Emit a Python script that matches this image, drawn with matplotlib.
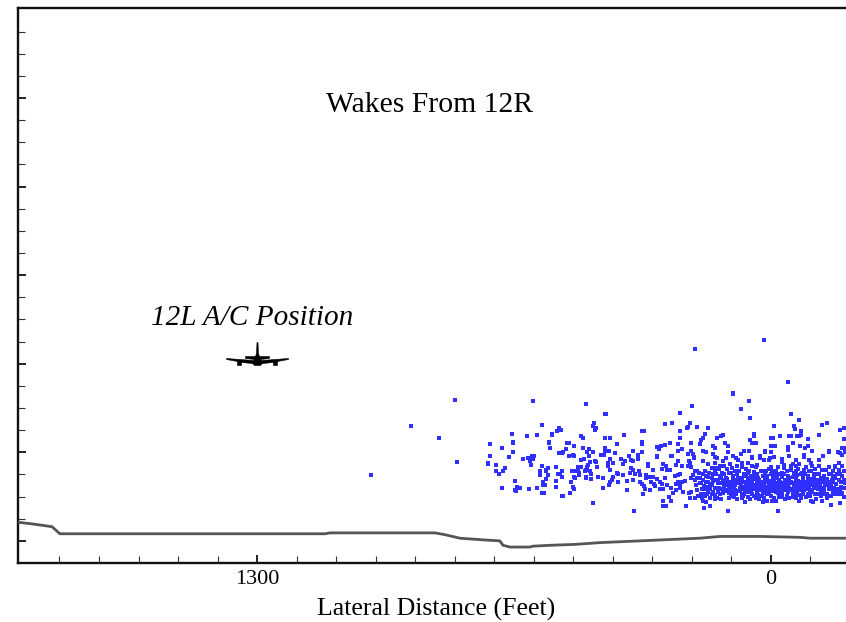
import numpy as np
import matplotlib
matplotlib.use('Agg')
import matplotlib.pyplot as plt
from matplotlib.path import Path

plt.rcParams['font.family'] = ['Liberation Serif', 'DejaVu Serif']

# ground profile, lateral feet / height
ground_x = [1905, 1867, 1819, 1799, 1128, 1116, 850, 825, 787, 724, 686, 678, 660, 610, 602, 559, 496, 433, 382, 281, 180, 129, 28, -73, -99, -190]
ground_y = [46, 44, 41, 33, 33, 34, 34, 32, 28, 26, 25, 20, 18, 18, 19, 20, 21, 23, 24, 26, 28, 30, 30, 29, 28, 28]

# wake positions (lateral feet, height)
wakes_outlying = [(800,184),(911,155),(840,141),(795,114),(1012,99),(18,252),(191,242),(-42,204),(97,192),(97,191),(55,183),(75,174),(52,164)]

wakes_left = [(601,183),(468,179),(448,158),(451,155),(443,152),(446,150),(578,156),(655,146),(553,146),(553,144),(542,149),(536,152),(530,150),
    (618,143),(593,144),(481,143),(475,141),(652,137),(652,135),(561,137),(561,135),(712,134),(516,136),(511,135),(680,130),(559,130),(497,132),
    (519,129),(476,130),(460,129),(653,125),(536,124),(529,124),(525,125),(465,125),(451,125),(460,121),(712,121),(663,120),(628,117),(615,119),
    (605,121),(599,121),(605,119),(601,117),(610,115),(607,111),(510,121),(502,122),(498,121),(473,117),(481,116),(445,115),(442,114),(458,114),
    (715,113),(715,112),(695,111),(578,110),(545,108),(565,107),(570,105),(570,104),(583,104),(583,99),(672,107),(678,104),(695,104),(689,101),
    (528,104),(539,101),(534,101),(504,104),(487,108),(481,108),(487,105),(492,104),(486,102),(486,99),(466,108),(468,105),(462,111),(470,104),
    (458,104),(456,100),(439,108),(564,99),(528,97),(498,97),(496,96),(468,97),(468,96),(456,95),(438,97),(569,95),(576,91),(576,88),(572,88),
    (545,93),(505,92),(647,93),(643,86),(636,85),(680,85),(647,82),(645,81),(613,83),(593,85),(545,86),(500,86),(497,83),(578,79),(575,79),
    (508,79),(529,76),(526,76),(451,68)]

wakes_mid = [(230,169),(199,177),(416,168),(419,168),(267,157),(250,158),(205,158),(209,154),(213,152),(188,154),(160,152),(230,149),(326,149),
    (320,149),(168,146),(372,144),(421,141),(406,141),(230,141),(173,141),(177,139),(326,137),(326,134),(390,134),(202,135),(180,134),(288,131),
    (277,132),(267,133),(256,135),(236,134),(283,129),(421,130),(421,126),(409,127),(349,127),(327,125),(336,122),(226,129),(234,127),(289,121),
    (289,120),(252,121),(249,121),(202,127),(209,123),(198,123),(194,120),(194,118),(173,126),(163,125),(146,132),(142,130),(146,123),(142,120),
    (429,122),(422,122),(407,117),(358,121),(395,124),(380,117),(370,115),(374,112),(355,116),(348,115),(336,117),(411,113),(411,110),(399,113),
    (407,105),(312,112),(312,110),(355,107),(348,105),(334,104),(357,102),(344,100),(331,99),(389,102),(375,99),(388,100),(298,105),(276,106),
    (272,112),(266,110),(240,111),(234,115),(264,105),(256,105),(226,110),(208,115),(205,113),(209,110),(201,108),(230,100),(243,98),(236,99),
    (268,96),(315,99),(315,96),(306,97),(299,97),(288,95),(426,96),(399,97),(401,94),(348,94),(363,93),(388,92),(407,91),(409,88),(426,85),
    (330,91),(326,89),(320,87),(319,83),(304,91),(295,89),(293,87),(281,91),(276,89),(281,84),(272,84),(264,88),(253,85),(247,79),(257,75),
    (254,70),(240,82),(240,89),(234,91),(230,89),(226,91),(218,93),(230,85),(363,82),(324,78),(306,82),(272,70),(272,64),(266,64),(346,59),
    (216,64),(170,62),(154,64),(207,79),(201,80),(205,73),(191,73),(186,82),(178,78),(175,73),(171,70),(164,69),(222,80),(201,96),(192,94),
    (192,104),(186,104),(182,102),(196,99),(171,100),(164,98),(159,97),(171,94),(163,91),(154,89),(142,103),(146,100),(180,90),(170,87),(159,86),
    (148,88),(175,83),(164,84),(153,83),(142,85),(173,78),(161,78),(150,78),(142,77),(142,72),(154,73),(173,115),(158,112),(150,107),(142,113),
    (138,107),(146,93),(138,94),(150,96),(190,88),(180,96),(168,104),(156,102),(148,96),(186,96),(176,90),(160,80),(146,80),(166,76),(185,76),(158,92)]

wakes_core = [(-50,168),(-70,161),(-8,155),(-58,155),(-61,151),(-75,149),(-75,145),(-67,143),(-72,143),(-130,156),(-143,158),(-175,150),(-184,152),
    (43,146),(43,143),(120,145),(127,143),(137,141),(-1,141),(-5,141),(-22,143),(-47,143),(-50,143),(-121,144),(-93,140),(-184,140),(52,139),(49,136),
    (38,135),(115,136),(109,132),(-56,135),(0,132),(-11,132),(-73,132),(-93,132),(-87,130),(-44,131),(-44,128),(-181,130),(-185,130),(15,127),(15,125),
    (-104,127),(-104,126),(-147,127),(-147,125),(109,125),(69,126),(55,126),(75,123),(-1,125),(-169,125),(-174,124),(-180,122),(-188,125),(97,121),
    (114,119),(48,120),(48,118),(27,121),(27,119),(-8,120),(2,119),(-47,121),(-83,122),(-83,120),(-132,121),(137,119),(89,119),(82,116),(72,113),(57,113),
    (17,116),(6,116),(-27,117),(-27,114),(-34,111),(-63,116),(-56,112),(-63,110),(-70,112),(-97,116),(-101,113),(-105,109),(-122,116),(-122,110),(122,115),
    (118,110),(104,112),(99,107),(47,109),(34,111),(0,108),(13,104),(-13,104),(-34,107),(-50,105),(-63,104),(-84,105),(-78,102),(-101,104),(-109,100),
    (-118,100),(-129,105),(-139,105),(-152,100),(-163,110),(-163,108),(-173,113),(-181,110),(-173,105),(-185,104),(132,106),(124,102),(139,100),(87,109),
    (80,104),(63,106),(68,100),(55,104),(42,103),(34,100),(26,104),(106,102),(97,98),(114,96),(135,94),(127,90),(122,94),(107,92),(99,89),(89,94),(76,96),
    (68,92),(59,95),(51,98),(40,96),(30,94),(21,98),(9,98),(0,100),(-11,99),(-21,100),(4,93),(-8,93),(-21,94),(-29,97),(-42,98),(-55,97),(-67,99),(-80,96),
    (-93,98),(-105,95),(-118,94),(-130,92),(-143,95),(-156,98),(-168,100),(-181,98),(-38,92),(-50,90),(-63,91),(-76,89),(-88,91),(-101,88),(-114,90),(-135,92),
    (-152,87),(-164,89),(-177,91),(-188,90),(131,85),(118,87),(106,85),(93,87),(80,90),(79,85),(63,88),(51,89),(40,87),(30,89),(17,87),(4,88),(-8,85),(-21,88),
    (-34,88),(-46,85),(-59,87),(-71,85),(-84,85),(-97,84),(-109,85),(-122,83),(-135,85),(-147,83),(-160,85),(-173,84),(-185,85),(133,80),(121,79),(110,81),
    (97,79),(84,81),(72,78),(59,80),(47,78),(34,81),(21,79),(9,78),(-4,81),(-17,79),(-29,78),(-42,80),(-55,78),(-67,81),(-80,79),(-93,78),(-105,80),(-118,78),
    (-130,79),(-143,78),(-156,80),(-168,78),(-181,79),(127,72),(136,73),(106,73),(93,75),(73,73),(66,69),(59,75),(38,73),(17,73),(19,69),(-8,73),(-13,70),
    (-29,75),(-46,73),(-63,73),(-76,73),(-88,75),(-101,70),(-107,69),(-114,72),(-130,70),(-143,73),(-152,66),(-174,68),(-185,75),(109,59),(-18,59),
    (130,98),(118,101),(110,95),(102,88),(92,92),(86,100),(78,93),(70,86),(62,98),(56,84),(48,92),(42,83),(36,92),(28,82),(24,90),(16,94),(12,84),(6,92),(-2,86),
    (-6,96),(-14,90),(-16,83),(-24,92),(-26,84),(-32,100),(-38,84),(-44,92),(-48,82),(-54,90),(-58,102),(-62,84),(-68,93),(-74,82),(-82,93),(-86,100),(-90,84),
    (-98,92),(-104,82),(-110,92),(-116,86),(-124,88),(-126,96),(-134,80),(-140,92),(-146,100),(-150,84),(-158,92),(-166,83),(-172,94),(-178,86),(-186,94),
    (125,84),(115,90),(105,79),(95,84),(88,78),(78,82),(66,80),(60,90),(52,86),(44,76),(36,85),(32,77),(24,82),(14,80),(8,86),(0,76),(-10,82),(-18,86),(-24,76),
    (-34,82),(-40,76),(-52,84),(-60,79),(-66,88),(-72,77),(-78,88),(-92,88),(-100,76),(-112,78),(-128,76),(-138,78),(-152,76),(-164,80),(-178,78),
    (128,110),(112,106),(100,102),(90,104),(74,108),(58,102),(44,100),(38,108),(22,104),(14,100),(6,106),(-4,104),(-18,108),(-28,102),(-40,104),(-52,110),
    (-68,106),(-76,100),(-90,108),(-96,104),(-112,106),(-122,100),(-134,98),(-146,108),(-158,104),(-176,100),(100,76),(86,72),(70,76),(52,72),(30,72),(22,76),
    (10,70),(-2,70),(-20,74),(-36,72),(-56,74),(-70,70),(-82,78),
    (133,90),(127,96),(120,82),(112,88),(104,92),(96,94),(90,82),(84,90),(76,88),(72,96),(64,84),(57,92),(50,82),(44,95),(38,88),(32,96),(26,86),(20,92),(15,84),
    (10,96),(3,84),(-3,92),(-12,86),(-16,96),(-22,80),(-28,90),(-36,94),(-42,88),(-46,96),(-52,92),(-58,82),(-64,96),(-70,90),(-76,84),(-80,92),(-86,88),(-94,94),
    (-100,82),(-108,96),(-120,90),(-128,84),(-132,96),(-142,88),(-154,94),(-162,96),(-170,80),(-182,92),
    (128,78),(112,82),(100,84),(90,88),(82,96),(74,84),(68,78),(54,96),(46,86),(36,80),(28,90),(18,84),(12,92),(5,80),(-6,90),(-14,80),(-20,90),(-30,86),(-40,82),
    (-46,90),(-54,82),(-62,78),(-72,92),(-84,82),(-96,88),(-106,88),(-118,84),(-126,80),(-136,88),(-148,92),(-160,78),(-176,84)]

# position of the 12L aircraft
aircraft_x = [1300]
aircraft_y = [230]

x_labels = {1300: '1300', 0: '0'}

# head-on aircraft silhouette for the marker
plane = Path([(-0.5,17),(0.5,17),(1,6),(2,3),(12,3),(12,1),(3,0),(4,-1),(31,1),(31,0),(20,-2),(20,-6),(16,-6),(16,-3),(5,-4),(3,-6),
    (-3,-6),(-5,-4),(-16,-3),(-16,-6),(-20,-6),(-20,-2),(-31,0),(-31,1),(-4,-1),(-3,0),(-12,1),(-12,3),(-2,3),(-1,6),(-0.5,17)])

fig = plt.figure(figsize=(8.46, 6.22), dpi=100)
ax = fig.add_axes([18/846, 1 - 563/622, 1 - 18/846, (563 - 8)/622])

wakes = np.array(wakes_outlying + wakes_left + wakes_mid + wakes_core)
ax.scatter(wakes[:,0], wakes[:,1], marker='s', s=7, color='#2f2fff', linewidths=0, zorder=2)
ax.plot(ground_x, ground_y, color='#555555', lw=2.0, solid_joinstyle='miter', zorder=3)
ax.plot(aircraft_x, aircraft_y, linestyle='none', marker=plane, markersize=44.6, color='black', markeredgewidth=0.4, zorder=4)

ax.set_xlim(1905, -190)
ax.set_ylim(0, 626.6)

ax.set_xticks(list(x_labels.keys()))
ax.set_xticklabels(list(x_labels.values()), fontsize=16)
ax.set_xticks(np.arange(-100, 1801, 100), minor=True)
ax.set_yticks(np.arange(25, 601, 100))
ax.set_yticklabels([])
ax.set_yticks(np.arange(25, 601, 25), minor=True)

ax.tick_params(which='major', direction='in', length=6, width=1.3, color='#111111', pad=5)
ax.tick_params(which='minor', direction='in', length=4.8, width=0.8, color='#333333')

ax.spines['right'].set_visible(False)
for side in ['left', 'top', 'bottom']:
    ax.spines[side].set_linewidth(1.7)
    ax.spines[side].set_color('#111111')

ax.set_xlabel('Lateral Distance (Feet)', fontsize=18.6)
ax.xaxis.set_label_coords(0.505, -0.063)
ax.text(863, 517, 'Wakes From 12R', fontsize=21.3, ha='center', va='center')
ax.text(1312, 277, '12L A/C Position', fontsize=21.1, style='italic', ha='center', va='center')

fig.savefig('out.png', dpi=100)
